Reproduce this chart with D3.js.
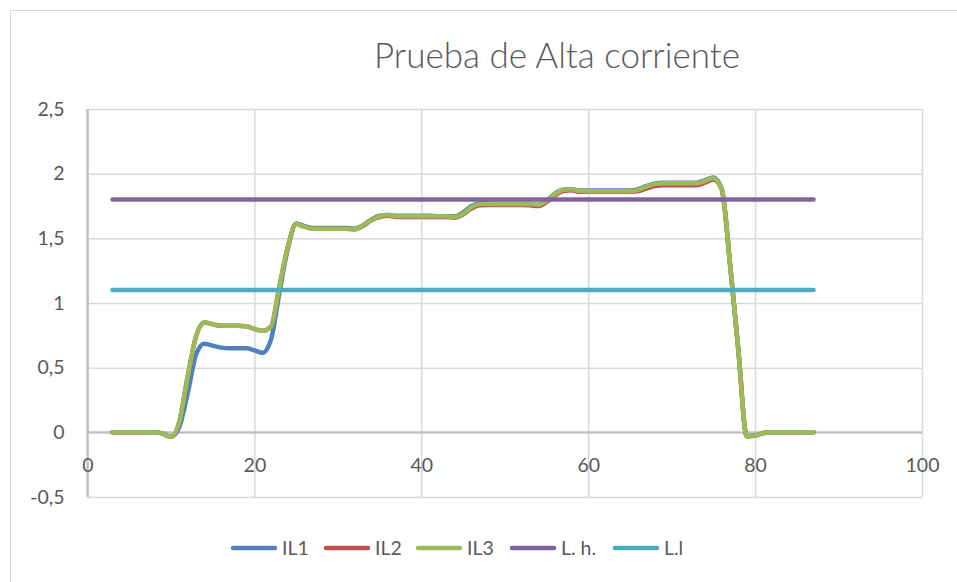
<!DOCTYPE html>
<html>
<head>
<meta charset="utf-8">
<script src="https://cdn.jsdelivr.net/npm/d3@7"></script>
<style>
  html, body { margin: 0; padding: 0; background: #ffffff; }
  svg { display: block; }
  text { font-family: Lato, "Open Sans", sans-serif; fill: #595959; }
</style>
</head>
<body>
<svg id="chart" width="957" height="582"></svg>
<script>
// Time axis (shared by the three phase currents)
const time = [3,4,5,6,7,8,9,10,11,12,13,14,15,16,17,18,19,20,21,22,23,24,25,26,27,28,29,30,
  31,32,33,34,35,36,37,38,39,40,41,42,43,44,45,46,47,48,49,50,51,52,53,54,55,56,57,58,
  59,60,61,62,63,64,65,66,67,68,69,70,71,72,73,74,75,76,77,78,79,80,81,82,83,84,85,86,87];

// Phase currents
const il1 = [0,0,0,0,0,0,-0.01,-0.035,0.04,0.3,0.6,0.685,0.67,0.655,0.65,0.65,0.65,0.635,0.615,0.72,1.08,1.42,1.615,
  1.595,1.58,1.58,1.58,1.58,1.58,1.575,1.6,1.645,1.675,1.68,1.675,1.675,1.675,1.675,1.675,1.67,1.67,1.67,1.7,1.75,
  1.77,1.77,1.765,1.765,1.765,1.765,1.765,1.76,1.79,1.845,1.875,1.88,1.87,1.87,1.87,1.87,1.87,1.87,1.87,1.88,1.905,
  1.925,1.93,1.93,1.93,1.93,1.93,1.95,1.97,1.88,1.3,0.63,-0.03,-0.025,-0.005,0,0,0,0,0,0];
const il2 = [0,0,0,0,0,0,-0.01,-0.035,0.08,0.43,0.74,0.85,0.835,0.825,0.825,0.825,0.82,0.8,0.785,0.82,1.13,1.43,1.61,
  1.59,1.575,1.575,1.575,1.575,1.575,1.57,1.595,1.64,1.665,1.675,1.665,1.665,1.665,1.665,1.665,1.665,1.665,1.66,1.685,1.73,
  1.755,1.757,1.757,1.757,1.757,1.757,1.755,1.75,1.78,1.83,1.865,1.872,1.86,1.86,1.86,1.86,1.86,1.86,1.86,1.865,1.885,
  1.905,1.91,1.91,1.91,1.91,1.91,1.93,1.955,1.88,1.3,0.63,-0.03,-0.025,-0.005,0,0,0,0,0,0];
const il3 = [0,0,0,0,0,0,-0.01,-0.035,0.08,0.43,0.74,0.85,0.835,0.825,0.825,0.825,0.82,0.8,0.785,0.82,1.13,1.43,1.61,
  1.59,1.575,1.575,1.575,1.575,1.575,1.57,1.6,1.64,1.67,1.68,1.67,1.67,1.67,1.67,1.67,1.67,1.67,1.665,1.69,1.74,
  1.765,1.765,1.765,1.765,1.765,1.765,1.765,1.76,1.79,1.84,1.875,1.88,1.867,1.865,1.865,1.865,1.865,1.865,1.865,1.875,1.9,
  1.92,1.925,1.925,1.925,1.925,1.925,1.945,1.965,1.88,1.3,0.63,-0.03,-0.025,-0.005,0,0,0,0,0,0];

// Limit lines (high / low)
const limitX = [3, 87];
const limitHigh = [1.8, 1.8];
const limitLow = [1.1, 1.1];

// Axis ticks
const xTicks = [0, 20, 40, 60, 80, 100];
const yTicks = [-0.5, 0, 0.5, 1, 1.5, 2, 2.5];

const seriesNames = ["IL1", "IL2", "IL3", "L. h.", "L.l"];
const seriesColors = ["#4F81BD", "#C0504D", "#9BBB59", "#8064A2", "#4BACC6"];

const series = [
  { name: seriesNames[0], xs: time, ys: il1 },
  { name: seriesNames[1], xs: time, ys: il2 },
  { name: seriesNames[2], xs: time, ys: il3 },
  { name: seriesNames[3], xs: limitX, ys: limitHigh },
  { name: seriesNames[4], xs: limitX, ys: limitLow }
];

const svg = d3.select("#chart");
const color = d3.scaleOrdinal(seriesNames, seriesColors);

const x = d3.scaleLinear().domain([0, 100]).range([87.5, 922]);
const y = d3.scaleLinear().domain([-0.5, 2.5]).range([497, 109]);

const locale = d3.formatLocale({ decimal: ",", thousands: ".", grouping: [3], currency: ["", " €"], minus: "-" });
const fmt = locale.format("~g");

// Outer chart border
svg.append("rect")
  .attr("x", 10.5).attr("y", 10.5)
  .attr("width", 1000).attr("height", 1000)
  .attr("fill", "none").attr("stroke", "#d9d9d9").attr("stroke-width", 1);

// Title
svg.append("text")
  .attr("x", 557).attr("y", 68)
  .attr("text-anchor", "middle")
  .style("font-size", "35px").style("font-weight", 300)
  .text("Prueba de Alta corriente");

// Gridlines
const grid = svg.append("g");
grid.append("g")
  .call(d3.axisBottom(x).tickValues(xTicks).tickSize(0).tickFormat(""))
  .call(g => g.select(".domain").remove())
  .call(g => g.selectAll(".tick line")
    .attr("y1", y(-0.5)).attr("y2", y(2.5))
    .attr("stroke", "#d9d9d9").attr("stroke-width", 1.5));
grid.append("g")
  .call(d3.axisLeft(y).tickValues(yTicks).tickSize(0).tickFormat(""))
  .call(g => g.select(".domain").remove())
  .call(g => g.selectAll(".tick line")
    .attr("x1", x(0)).attr("x2", x(100))
    .attr("stroke", "#d9d9d9").attr("stroke-width", 1.5));

// Axis lines
svg.append("line")
  .attr("x1", x(0)).attr("x2", x(0)).attr("y1", y(2.5)).attr("y2", y(-0.5))
  .attr("stroke", "#bfbfbf").attr("stroke-width", 2.25);
svg.append("line")
  .attr("x1", x(0)).attr("x2", x(100)).attr("y1", y(0)).attr("y2", y(0))
  .attr("stroke", "#bfbfbf").attr("stroke-width", 2.25);

// Y tick labels
svg.append("g")
  .attr("transform", `translate(${x(0)},0)`)
  .call(d3.axisLeft(y).tickValues(yTicks).tickSize(0).tickPadding(23).tickFormat(fmt))
  .call(g => g.select(".domain").remove())
  .call(g => g.selectAll("text").style("font-size", "19.5px").attr("fill", "#595959")
    .style("font-family", "Lato, 'Open Sans', sans-serif"));

// X tick labels, hung below the zero line
svg.append("g")
  .attr("transform", `translate(0,${y(0)})`)
  .call(d3.axisBottom(x).tickValues(xTicks).tickSize(0).tickPadding(0).tickFormat(fmt))
  .call(g => g.select(".domain").remove())
  .call(g => g.selectAll("text").attr("dy", null).attr("y", 40).style("font-size", "19.5px")
    .attr("fill", "#595959").style("font-family", "Lato, 'Open Sans', sans-serif"));

// Series lines
const line = d3.line()
  .x(d => x(d[0]))
  .y(d => y(d[1]))
  .curve(d3.curveMonotoneX);

svg.append("g")
  .selectAll("path")
  .data(series)
  .join("path")
  .attr("d", s => line(s.xs.map((v, i) => [v, s.ys[i]])))
  .attr("fill", "none")
  .attr("stroke", s => color(s.name))
  .attr("stroke-width", 4.5)
  .attr("stroke-linecap", "round")
  .attr("stroke-linejoin", "round");

// Legend
const legendX = [233, 326, 418, 512, 615];
const legend = svg.append("g");
const items = legend.selectAll("g")
  .data(seriesNames)
  .join("g")
  .attr("transform", (d, i) => `translate(${legendX[i]},548)`);
items.append("line")
  .attr("x1", 0).attr("x2", 42)
  .attr("stroke", d => color(d)).attr("stroke-width", 4.5).attr("stroke-linecap", "round");
items.append("text")
  .attr("x", 49).attr("y", 7)
  .style("font-size", "19.5px")
  .text(d => d);
</script>
</body>
</html>
